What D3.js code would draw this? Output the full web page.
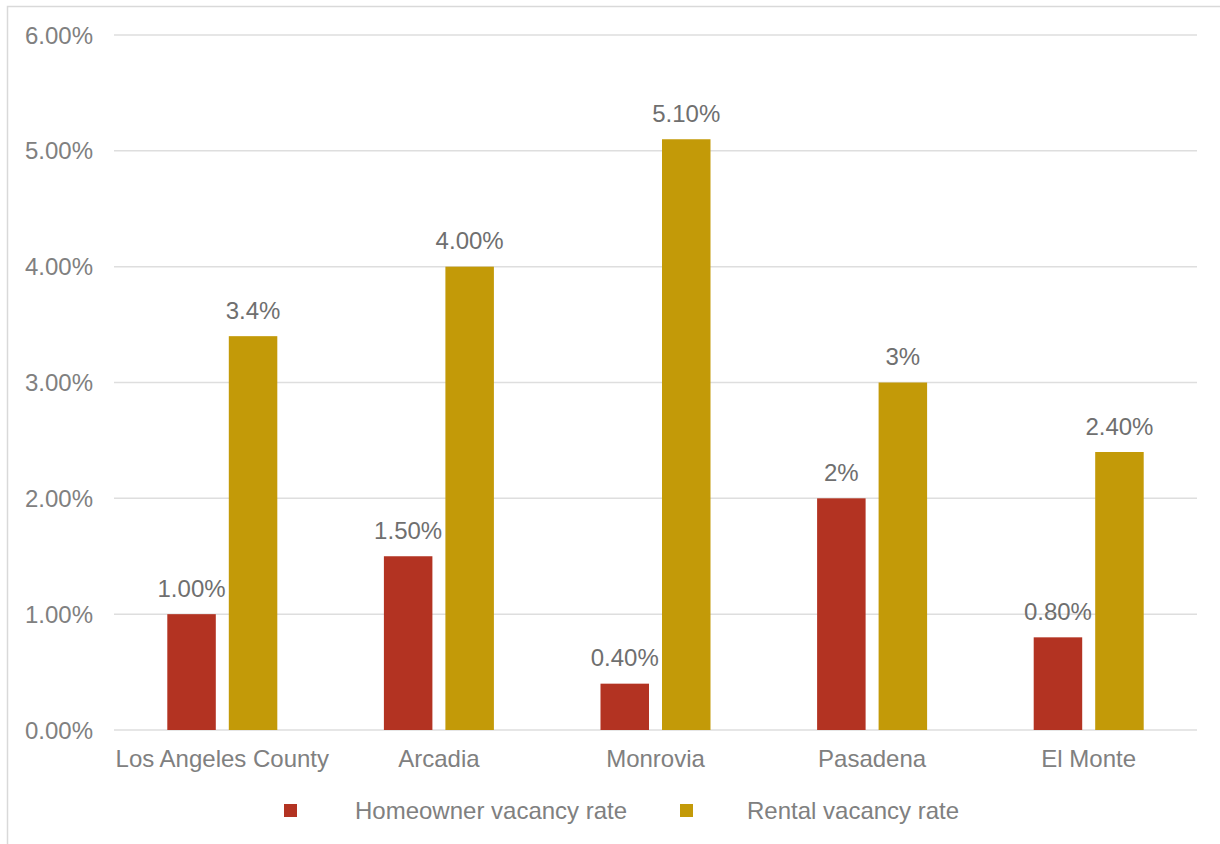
<!DOCTYPE html>
<html>
<head>
<meta charset="utf-8">
<script src="https://cdn.jsdelivr.net/npm/d3@7"></script>
<style>
  html, body { margin: 0; padding: 0; background: #fff; }
  svg { display: block; font-family: "Liberation Sans", Arial, sans-serif; }
</style>
</head>
<body>
<svg id="chart" width="1220" height="844"></svg>
<script>
// Vacancy rates by area
const categories = ["Los Angeles County", "Arcadia", "Monrovia", "Pasadena", "El Monte"];
const seriesNames = ["Homeowner vacancy rate", "Rental vacancy rate"];
const homeownerRates = [1.0, 1.5, 0.4, 2.0, 0.8];
const rentalRates = [3.4, 4.0, 5.1, 3.0, 2.4];
const homeownerLabels = ["1.00%", "1.50%", "0.40%", "2%", "0.80%"];
const rentalLabels = ["3.4%", "4.00%", "5.10%", "3%", "2.40%"];
const yTicks = [0, 1, 2, 3, 4, 5, 6];
const yTickLabels = ["0.00%", "1.00%", "2.00%", "3.00%", "4.00%", "5.00%", "6.00%"];

const colors = ["#B33322", "#C39A08"];
const axisGray = "#808080";
const labelGray = "#6f6f6f";
const gridGray = "#dedede";
const fontSize = 24;

const svg = d3.select("#chart");

// chart area frame
svg.append("rect")
  .attr("x", 7.5).attr("y", 6.5)
  .attr("width", 1240).attr("height", 900)
  .attr("fill", "none").attr("stroke", "#d9d9d9").attr("stroke-width", 1.5);

const plot = { left: 114, right: 1197, top: 35, bottom: 730 };

const x = d3.scaleBand().domain(categories).range([plot.left, plot.right]);
const y = d3.scaleLinear().domain([0, 6]).range([plot.bottom, plot.top]);

const barW = 48.5, barGap = 13;
const offsets = [-(barGap / 2 + barW), barGap / 2];

// gridlines
svg.append("g").selectAll("line").data(yTicks).join("line")
  .attr("x1", plot.left).attr("x2", plot.right)
  .attr("y1", d => y(d)).attr("y2", d => y(d))
  .attr("stroke", gridGray).attr("stroke-width", 1.5);

// y tick labels
svg.append("g").selectAll("text").data(yTicks).join("text")
  .attr("x", 93).attr("y", d => y(d))
  .attr("dy", "0.36em")
  .attr("text-anchor", "end")
  .attr("font-size", fontSize)
  .attr("fill", axisGray)
  .text((d, i) => yTickLabels[i]);

// category labels
svg.append("g").selectAll("text").data(categories).join("text")
  .attr("x", d => x(d) + x.bandwidth() / 2)
  .attr("y", 767)
  .attr("text-anchor", "middle")
  .attr("font-size", fontSize)
  .attr("fill", axisGray)
  .text(d => d);

// bars and value labels
const series = [
  { values: homeownerRates, labels: homeownerLabels },
  { values: rentalRates, labels: rentalLabels }
];

series.forEach((s, si) => {
  const g = svg.append("g");
  g.selectAll("rect").data(categories).join("rect")
    .attr("x", d => x(d) + x.bandwidth() / 2 + offsets[si])
    .attr("y", (d, i) => y(s.values[i]))
    .attr("width", barW)
    .attr("height", (d, i) => y(0) - y(s.values[i]))
    .attr("fill", colors[si]);
  g.selectAll("text").data(categories).join("text")
    .attr("x", d => x(d) + x.bandwidth() / 2 + offsets[si] + barW / 2)
    .attr("y", (d, i) => y(s.values[i]) - 17.5)
    .attr("text-anchor", "middle")
    .attr("font-size", fontSize)
    .attr("fill", labelGray)
    .text((d, i) => s.labels[i]);
});

// legend
const legendItems = [
  { sx: 284, tx: 355 },
  { sx: 680, tx: 747 }
];
const lg = svg.append("g");
legendItems.forEach((it, i) => {
  lg.append("rect")
    .attr("x", it.sx).attr("y", 804)
    .attr("width", 13).attr("height", 13)
    .attr("fill", colors[i]);
  lg.append("text")
    .attr("x", it.tx).attr("y", 818.5)
    .attr("font-size", fontSize)
    .attr("fill", axisGray)
    .text(seriesNames[i]);
});
</script>
</body>
</html>
